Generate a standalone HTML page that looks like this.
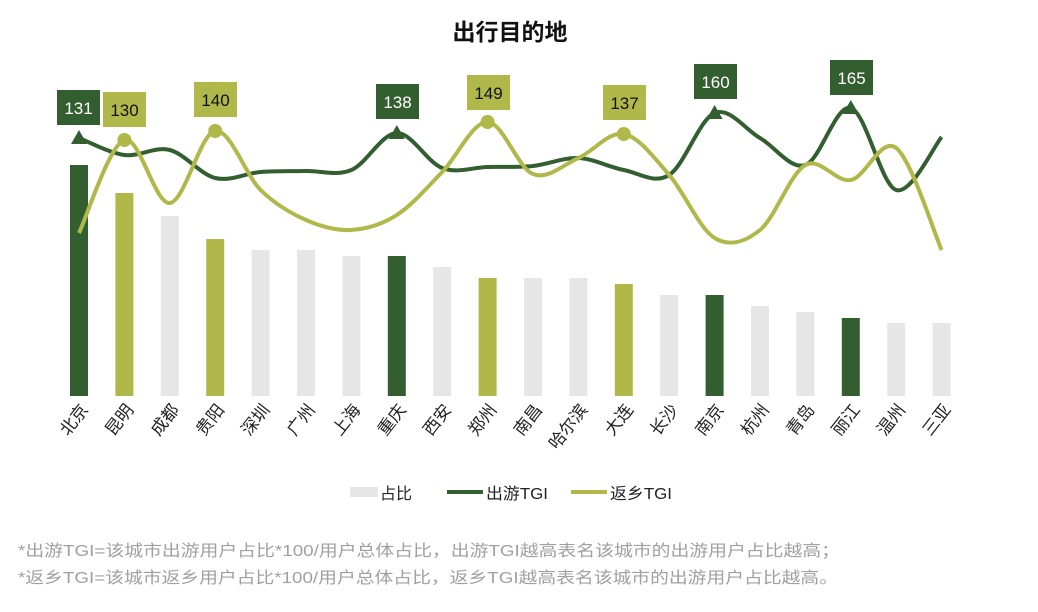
<!DOCTYPE html>
<html><head><meta charset="utf-8"><style>
html,body{margin:0;padding:0;background:#fff;}
svg{display:block;font-family:"Liberation Sans","Noto Sans CJK SC",sans-serif;}
</style></head><body>
<svg id="s" width="1038" height="612" viewBox="0 0 1038 612" xmlns="http://www.w3.org/2000/svg">
<text x="510" y="40" text-anchor="middle" font-size="23" font-weight="bold" fill="#111">出行目的地</text>
<g id="bars"></g>
<g id="lines"></g>
<g id="labels"></g>
<g id="xl"></g>
<rect x="350" y="487" width="28" height="10" fill="#e6e6e6"/>
<text x="380" y="499" font-size="16" fill="#222">占比</text>
<rect x="447" y="490" width="36" height="4" fill="#335f30"/>
<text x="486" y="499" font-size="16" fill="#222" textLength="62" lengthAdjust="spacingAndGlyphs">出游TGI</text>
<rect x="571" y="490" width="36" height="4" fill="#b0b84a"/>
<text x="610" y="499" font-size="16" fill="#222" textLength="62" lengthAdjust="spacingAndGlyphs">返乡TGI</text>
<text x="18" y="556" font-size="16" fill="#a0a0a0" textLength="822" lengthAdjust="spacingAndGlyphs">*出游TGI=该城市出游用户占比*100/用户总体占比，出游TGI越高表名该城市的出游用户占比越高；</text>
<text x="18" y="583" font-size="16" fill="#a0a0a0" textLength="820" lengthAdjust="spacingAndGlyphs">*返乡TGI=该城市返乡用户占比*100/用户总体占比，返乡TGI越高表名该城市的出游用户占比越高。</text>
</svg>
<script>
var D="#335f30",O="#b0b84a",G="#e6e6e6";
var names=["北京","昆明","成都","贵阳","深圳","广州","上海","重庆","西安","郑州","南昌","哈尔滨","大连","长沙","南京","杭州","青岛","丽江","温州","三亚"];
var tops=[165,193,216,239,250,250,256,256,267,278,278,278,284,295,295,306,312,318,323,323];
var cols=[D,O,G,O,G,G,G,D,G,O,G,G,O,G,D,G,G,D,G,G];
var dark=[138,155,150,178,172,171,170,133,168,167,166,158,170,175,113,138,165,108,190,137];
var oliv=[233,140,203,131,190,220,230,215,172,122,174,158,134,175,238,230,165,180,148,250];
var xs=names.map(function(_,i){return 79+i*45.4;});
var ns="http://www.w3.org/2000/svg";
function el(p,t,a,txt){var e=document.createElementNS(ns,t);for(var k in a)e.setAttribute(k,a[k]);if(txt)e.textContent=txt;document.getElementById(p).appendChild(e);return e;}
xs.forEach(function(x,i){
 el("bars","rect",{x:x-9,y:tops[i],width:18,height:396-tops[i],fill:cols[i]});
 el("xl","text",{x:0,y:0,"font-size":17,fill:"#222","text-anchor":"end",transform:"translate("+(x+10)+",410) rotate(-52)"},names[i]);
});
function path(ys){var p=xs.map(function(x,i){return [x,ys[i]];});var d="M"+p[0][0]+","+p[0][1];
 for(var i=0;i<p.length-1;i++){var p0=p[i-1]||p[i],p1=p[i],p2=p[i+1],p3=p[i+2]||p2;
 d+=" C"+(p1[0]+(p2[0]-p0[0])/6)+","+(p1[1]+(p2[1]-p0[1])/6)+" "+(p2[0]-(p3[0]-p1[0])/6)+","+(p2[1]-(p3[1]-p1[1])/6)+" "+p2[0]+","+p2[1];}
 return d;}
el("lines","path",{d:path(dark),fill:"none",stroke:D,"stroke-width":4});
el("lines","path",{d:path(oliv),fill:"none",stroke:O,"stroke-width":4});
[0,7,14,17].forEach(function(i){var x=xs[i],y=dark[i];el("lines","polygon",{points:(x-8)+","+(y+6)+" "+(x+8)+","+(y+6)+" "+x+","+(y-8),fill:D});});
[1,3,9,12].forEach(function(i){el("lines","circle",{cx:xs[i],cy:oliv[i],r:7,fill:O});});
var labs=[[57,90,"131",D,"#fff"],[103,92,"130",O,"#111"],[194,82,"140",O,"#111"],[376,84,"138",D,"#fff"],[467,75,"149",O,"#111"],[603,85,"137",O,"#111"],[694,64,"160",D,"#fff"],[830,60,"165",D,"#fff"]];
labs.forEach(function(l){el("labels","rect",{x:l[0],y:l[1],width:43,height:35,fill:l[3]});
 el("labels","text",{x:l[0]+21.5,y:l[1]+24,"text-anchor":"middle","font-size":17,fill:l[4]},l[2]);});
</script>
</body></html>
